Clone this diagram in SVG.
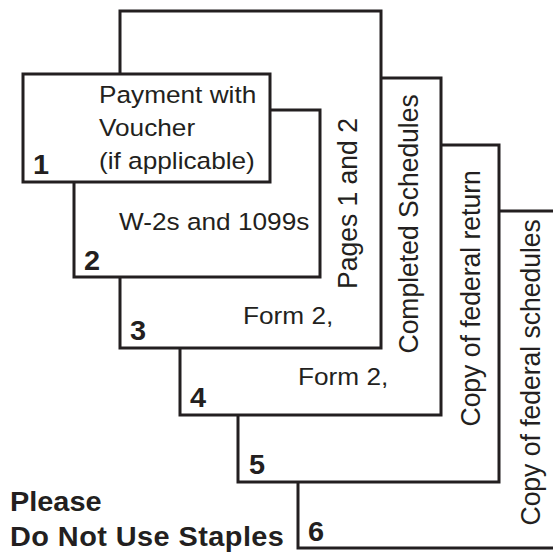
<svg xmlns="http://www.w3.org/2000/svg" width="553" height="552" viewBox="0 0 553 552">
<style>
.pg{fill:#ffffff;stroke:#231f20;stroke-width:3}
.h{font-family:"Liberation Sans",Arial,sans-serif;font-size:24.5px;fill:#231f20}
.v{font-family:"Liberation Sans",Arial,sans-serif;font-size:26.5px;fill:#231f20}
.n{font-family:"Liberation Sans",Arial,sans-serif;font-size:27px;font-weight:bold;fill:#231f20}
</style>
<rect width="553" height="552" fill="#ffffff"/>
<g id="page6">
<rect class="pg" x="298" y="211" width="270" height="337"/>
<text class="v" transform="translate(540,525.5) scale(1.07,1) rotate(-90)">Copy of federal schedules</text>
<text class="n" transform="translate(308,541) scale(1.07,1)">6</text>
</g>
<g id="page5">
<rect class="pg" x="238" y="145" width="261" height="337"/>
<text class="v" transform="translate(480,426.5) scale(1.07,1) rotate(-90)">Copy of federal return</text>
<text class="n" transform="translate(249,474) scale(1.07,1)">5</text>
</g>
<g id="page4">
<rect class="pg" x="180" y="78" width="261" height="337"/>
<text class="v" transform="translate(418,353.5) scale(1.07,1) rotate(-90)">Completed Schedules</text>
<text class="h" transform="translate(298,385) scale(1.07,1)">Form 2,</text>
<text class="n" transform="translate(190,407) scale(1.07,1)">4</text>
</g>
<g id="page3">
<rect class="pg" x="120" y="11" width="261" height="337"/>
<text class="v" transform="translate(357,289) scale(1.07,1) rotate(-90)">Pages 1 and 2</text>
<text class="h" transform="translate(243,324) scale(1.07,1)">Form 2,</text>
<text class="n" transform="translate(130,340) scale(1.07,1)">3</text>
</g>
<g id="page2">
<rect class="pg" x="74" y="110" width="246" height="167"/>
<text class="h" transform="translate(119,230) scale(1.07,1)">W-2s and 1099s</text>
<text class="n" transform="translate(84,270) scale(1.07,1)">2</text>
</g>
<g id="page1">
<rect class="pg" x="23" y="74" width="247" height="108"/>
<text class="h" transform="translate(99,103) scale(1.07,1)">Payment with</text>
<text class="h" transform="translate(99,136) scale(1.07,1)">Voucher</text>
<text class="h" transform="translate(99,169) scale(1.07,1)">(if applicable)</text>
<text class="n" transform="translate(33,174) scale(1.07,1)">1</text>
</g>
<g id="note">
<text class="n" transform="translate(10,511) scale(1.07,1)">Please</text>
<text class="n" transform="translate(10,546) scale(1.07,1)" textLength="256" lengthAdjust="spacing">Do Not Use Staples</text>
</g>
</svg>
